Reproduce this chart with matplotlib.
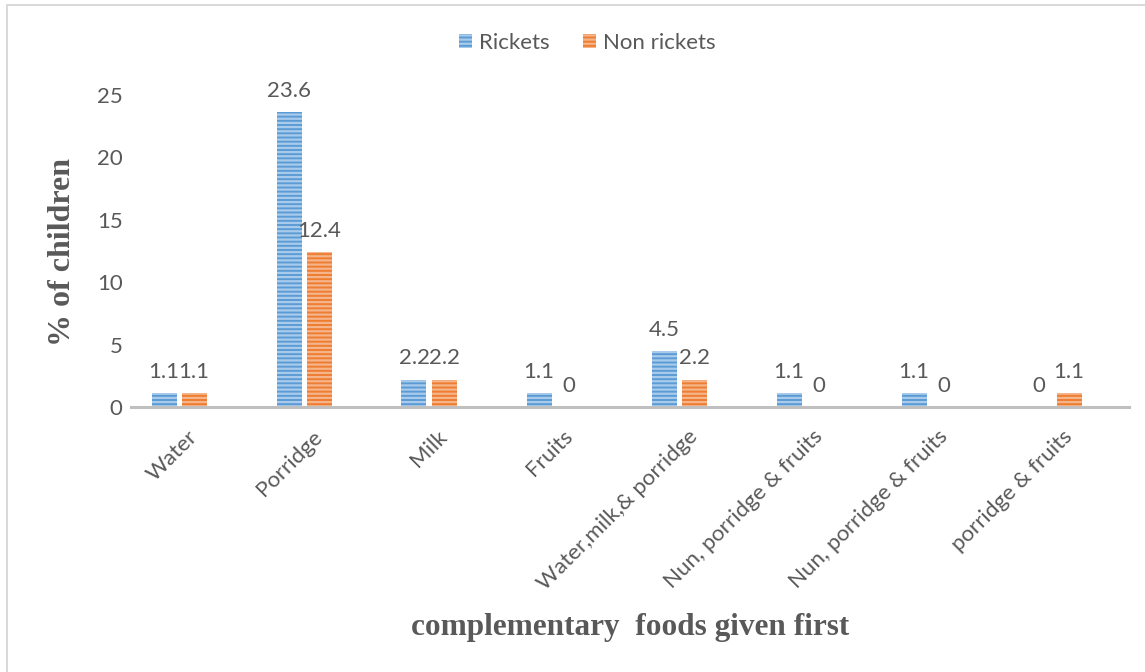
import matplotlib

matplotlib.use("Agg")

import matplotlib.pyplot as plt
from matplotlib.patches import Rectangle
import numpy as np

foods = [
    "Water",
    "Porridge",
    "Milk",
    "Fruits",
    "Water,milk,& porridge",
    "Nun, porridge & fruits",
    "Nun, porridge & fruits",
    "porridge & fruits",
]
rickets = [1.1, 23.6, 2.2, 1.1, 4.5, 1.1, 1.1, 0]
non_rickets = [1.1, 12.4, 2.2, 0, 2.2, 0, 0, 1.1]

TXT = "#595959"
plt.rcParams["font.family"] = ["Lato", "DejaVu Sans"]
plt.rcParams["hatch.linewidth"] = 1.6

fig = plt.figure(figsize=(11.45, 6.72), dpi=100)
ax = fig.add_axes([131 / 1145, 1 - 407 / 672, 998 / 1145, 312 / 672])

# outer chart frame
fig.patches.append(Rectangle((6.5 / 1145, -0.05), 1.1, 1.05 - 5.5 / 672,
                             transform=fig.transFigure, fill=False,
                             edgecolor="#d9d9d9", linewidth=1.4))

x = np.arange(len(foods))
w = 0.2
off = 0.12
b1 = ax.bar(x - off, rickets, w, color="#5b9bd5", edgecolor="#a9cbeb",
            hatch="----", linewidth=0, label="Rickets")
b2 = ax.bar(x + off, non_rickets, w, color="#ed7d31", edgecolor="#f6b48a",
            hatch="----", linewidth=0, label="Non rickets")

for bars, vals in ((b1, rickets), (b2, non_rickets)):
    for r, v in zip(bars, vals):
        ax.annotate(f"{v:g}", (r.get_x() + r.get_width() / 2, v),
                    xytext=(0, 8), textcoords="offset points",
                    ha="center", va="bottom", fontsize=16, color=TXT)

ax.set_xlim(-0.384, 7.6)
ax.set_ylim(0, 25)
ax.set_yticks([0, 5, 10, 15, 20, 25])
ax.tick_params(axis="y", length=0, labelsize=16, labelcolor=TXT, pad=6)
ax.tick_params(axis="x", length=0)
ax.set_xticks(x)
ax.set_xticklabels([])
for xi, lab in zip(x, foods):
    ax.annotate(lab, (xi, 0), xytext=(11, -19), textcoords="offset points",
                rotation=45, rotation_mode="anchor", ha="right", va="center",
                fontsize=16, color=TXT, annotation_clip=False)

for s in ("top", "right", "left"):
    ax.spines[s].set_visible(False)
ax.spines["bottom"].set_color("#bfbfbf")
ax.spines["bottom"].set_linewidth(2.2)

fig.text(62 / 1145, 1 - 252 / 672, "% of children", rotation=90,
         ha="center", va="center", fontsize=23, fontweight="bold",
         family="Liberation Serif", color=TXT)
fig.text(630 / 1145, 1 - 628 / 672, "complementary  foods given first",
         ha="center", va="center", fontsize=22.5, fontweight="bold",
         family="Liberation Serif", color=TXT)

leg = fig.legend(loc="center", bbox_to_anchor=(587 / 1145, 1 - 43 / 672),
                 ncol=2, frameon=False, fontsize=16, handlelength=0.6,
                 handleheight=0.6, handletextpad=0.3, columnspacing=1.5)
for t in leg.get_texts():
    t.set_color(TXT)

fig.savefig("out.png", dpi=100)
